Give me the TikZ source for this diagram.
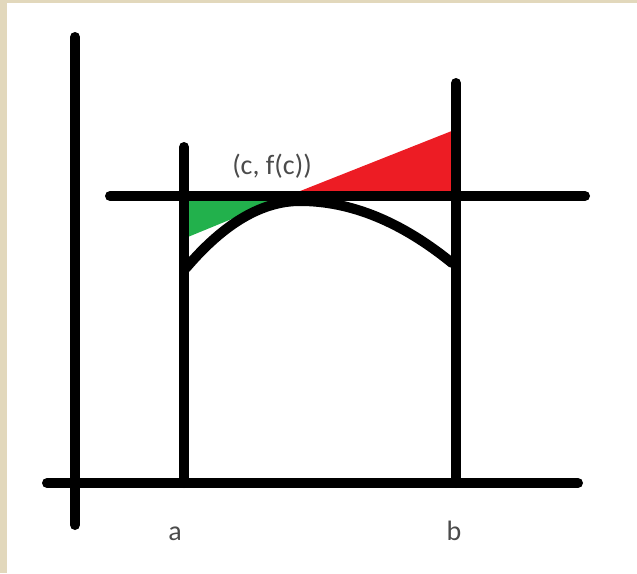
\documentclass[tikz,border=0pt]{standalone}
\usepackage{fontspec}
\setmainfont{Carlito}
\usetikzlibrary{calc}
\definecolor{PaperBeige}{RGB}{226,216,188}
\definecolor{PaintGreen}{RGB}{34,177,76}
\definecolor{PaintRed}{RGB}{237,28,36}
\definecolor{LblGray}{RGB}{75,75,75}
\begin{document}
\begin{tikzpicture}[x=1pt,y=-1pt,axis/.style={line width=10pt,line cap=round},lbl/.style={font=\fontsize{28}{32}\selectfont,text=LblGray,anchor=base,inner sep=0pt}]
\useasboundingbox (0,0) rectangle (637,573);
\fill[PaperBeige] (0,0) rectangle (637,3);\fill[PaperBeige] (0,0) rectangle (7,573);
% axes and the two bounds
\coordinate (yt) at (75,37);\coordinate (yb) at (75,525);
\coordinate (xl) at (47,483);\coordinate (xr) at (578,483);
\coordinate (at) at (184,147);\coordinate (ab) at (184,483);
\coordinate (bt) at (456,83);\coordinate (bb) at (456,483);
\coordinate (tl) at (110,196);\coordinate (tr) at (585,196);
% secant ends and crossing with the tangent
\coordinate (sa) at (184,238.6);\coordinate (sx) at (287.6,196);\coordinate (sb) at (456,129.3);
\coordinate (ta) at (184,196);\coordinate (tb) at (456,196);
\fill[PaintGreen] (ta)--(sa)--(sx)--cycle;
\fill[PaintRed] (sx)--(sb)--(tb)--cycle;
\draw[axis] (yt)--(yb);\draw[axis] (xl)--(xr);
\draw[axis] (at)--(ab);\draw[axis] (bt)--(bb);
\draw[axis] (tl)--(tr);
% the curve, touching the tangent at (c,f(c))
\coordinate (ca) at (186,268);\coordinate (cc) at (300,201);\coordinate (cb) at (452,263);
\draw[axis] (ca) .. controls (224,223.3) and (262,201) .. (cc) .. controls (350.7,201) and (401.3,221.7) .. (cb);
\node[lbl] (cfc) at (272,174) {(c, f(c))};
\node[lbl] (la) at (175,540) {a};
\node[lbl] (lb) at (454,540) {b};
\end{tikzpicture}
\end{document}
